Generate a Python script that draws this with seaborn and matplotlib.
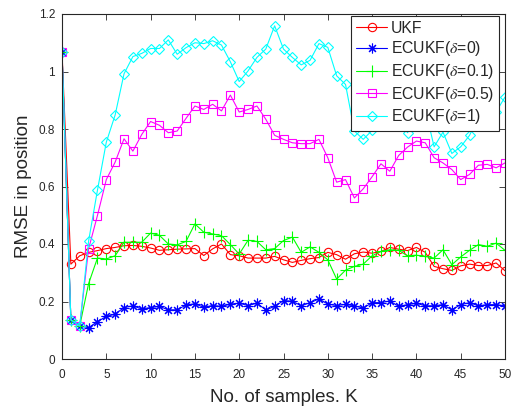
import numpy as np
import pandas as pd
import matplotlib
matplotlib.use("Agg")
import matplotlib.pyplot as plt
import seaborn as sns

# Sample index
K = list(range(0, 51))

# RMSE in position for each filter
ukf = [1.068, 0.330, 0.359, 0.371, 0.377, 0.384, 0.388, 0.394, 0.395, 0.392,
       0.386, 0.378, 0.380, 0.382, 0.383, 0.384, 0.360, 0.383, 0.400, 0.363,
       0.359, 0.351, 0.351, 0.351, 0.357, 0.345, 0.336, 0.343, 0.349, 0.353,
       0.371, 0.363, 0.347, 0.366, 0.372, 0.368, 0.374, 0.388, 0.382, 0.377,
       0.388, 0.371, 0.322, 0.314, 0.308, 0.324, 0.330, 0.325, 0.325, 0.334,
       0.307]
ecukf_0 = [1.068, 0.136, 0.115, 0.109, 0.130, 0.148, 0.156, 0.179, 0.185, 0.174,
           0.179, 0.183, 0.171, 0.171, 0.188, 0.192, 0.180, 0.186, 0.183, 0.191,
           0.194, 0.186, 0.194, 0.171, 0.183, 0.203, 0.201, 0.185, 0.196, 0.209,
           0.191, 0.186, 0.190, 0.185, 0.177, 0.196, 0.196, 0.202, 0.183, 0.189,
           0.194, 0.185, 0.185, 0.189, 0.171, 0.189, 0.196, 0.185, 0.189, 0.189,
           0.185]
ecukf_01 = [1.068, 0.136, 0.115, 0.262, 0.351, 0.348, 0.359, 0.406, 0.406, 0.406,
            0.438, 0.430, 0.400, 0.397, 0.409, 0.470, 0.441, 0.435, 0.429, 0.398,
            0.365, 0.413, 0.409, 0.380, 0.384, 0.412, 0.424, 0.371, 0.390, 0.371,
            0.345, 0.278, 0.309, 0.322, 0.330, 0.359, 0.374, 0.380, 0.378, 0.359,
            0.361, 0.357, 0.351, 0.380, 0.328, 0.355, 0.378, 0.398, 0.392, 0.403,
            0.378]
ecukf_05 = [1.068, 0.136, 0.115, 0.383, 0.499, 0.624, 0.685, 0.766, 0.723, 0.781,
            0.826, 0.813, 0.787, 0.793, 0.837, 0.880, 0.868, 0.886, 0.863, 0.918,
            0.859, 0.868, 0.880, 0.834, 0.778, 0.764, 0.752, 0.749, 0.749, 0.764,
            0.700, 0.615, 0.624, 0.560, 0.592, 0.634, 0.679, 0.653, 0.708, 0.737,
            0.758, 0.752, 0.700, 0.682, 0.659, 0.624, 0.642, 0.674, 0.677, 0.665,
            0.682]
ecukf_1 = [1.068, 0.136, 0.115, 0.410, 0.587, 0.754, 0.849, 0.992, 1.052, 1.063,
           1.080, 1.080, 1.110, 1.060, 1.083, 1.100, 1.097, 1.107, 1.092, 1.034,
           0.965, 1.002, 1.049, 1.078, 1.159, 1.078, 1.049, 1.023, 1.039, 1.097,
           1.084, 0.985, 0.955, 0.793, 0.764, 0.795, 0.810, 0.860, 0.830, 0.787,
           0.840, 0.870, 0.738, 0.789, 0.715, 0.738, 0.778, 0.840, 0.880, 0.860,
           0.911]

labels = ["UKF", r"ECUKF($\delta$=0)", r"ECUKF($\delta$=0.1)",
          r"ECUKF($\delta$=0.5)", r"ECUKF($\delta$=1)"]
series = [ukf, ecukf_0, ecukf_01, ecukf_05, ecukf_1]
colors = ["#ff0000", "#0000ff", "#00ff00", "#ff00ff", "#00ffff"]
markers = ["o", (8, 2, 0), "+", "s", "D"]
msizes = [6.0, 7.0, 8.0, 5.5, 5.5]

xticks = list(range(0, 51, 5))
yticks = [0, 0.2, 0.4, 0.6, 0.8, 1.0, 1.2]
yticklabels = ["0", "0.2", "0.4", "0.6", "0.8", "1", "1.2"]

sns.set_style("ticks")
plt.rcParams["font.family"] = ["Liberation Sans", "DejaVu Sans"]
plt.rcParams["mathtext.fontset"] = "stix"

fig = plt.figure(figsize=(5.13, 4.12), dpi=100)
ax = fig.add_axes([62 / 513, 1 - 359 / 412, 443 / 513, 345 / 412])

for vals, lab, col, mk, ms in zip(series, labels, colors, markers, msizes):
    df = pd.DataFrame({"K": K, "RMSE": vals})
    sns.lineplot(data=df, x="K", y="RMSE", ax=ax, color=col, label=lab,
                 marker=mk, markersize=ms, markerfacecolor="none",
                 markeredgecolor=col, markeredgewidth=0.8, linewidth=0.8)

ax.set_xlim(0, 50)
ax.set_ylim(0, 1.2)
ax.set_xticks(xticks)
ax.set_xticklabels([str(t) for t in xticks])
ax.set_yticks(yticks)
ax.set_yticklabels(yticklabels)

dark = "#262626"
for side in ["left", "right", "top", "bottom"]:
    ax.spines[side].set_visible(True)
    ax.spines[side].set_color(dark)
    ax.spines[side].set_linewidth(0.8)
ax.tick_params(direction="in", top=True, right=True, length=4, width=0.6,
               colors=dark, labelsize=8.5)
ax.tick_params(axis="x", pad=7)
ax.tick_params(axis="y", pad=5)

ax.set_xlabel("No. of samples. K", fontsize=13.5, color=dark, labelpad=6)
ax.set_ylabel("RMSE in position", fontsize=13.5, color=dark, labelpad=5)

leg = ax.legend(loc="upper right", bbox_to_anchor=(0.987, 0.994),
                borderaxespad=0, fontsize=11.3, frameon=True, fancybox=False,
                framealpha=1, edgecolor=dark, handlelength=2.0,
                handletextpad=0.25, labelspacing=0.23, borderpad=0.3)
leg.get_frame().set_linewidth(0.8)

fig.savefig("out.png", dpi=100)
